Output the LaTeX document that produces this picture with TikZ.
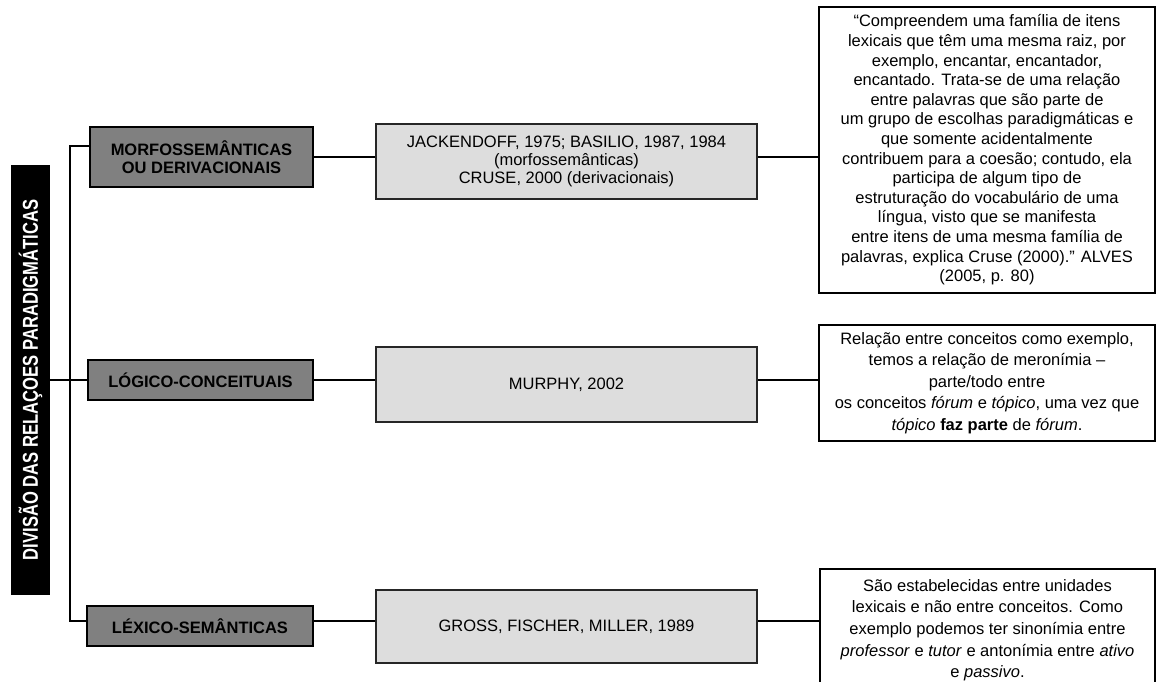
\documentclass[tikz,border=0pt]{standalone}
\usepackage{fontspec}
\setmainfont{Liberation Sans}
\usepackage{graphicx}
\begin{document}
\begin{tikzpicture}[x=1pt,y=-1pt,
  catbox/.style={draw=black,line width=1.3pt,fill=catgray,inner sep=0pt,align=center,
    font=\fontsize{16.5}{18}\selectfont\bfseries,anchor=center},
  refbox/.style={draw=black!85,line width=1.1pt,fill=refgray,inner sep=0pt,align=center,
    font=\fontsize{16.5}{18}\selectfont,anchor=center},
  notebox/.style={draw=black,line width=1.2pt,fill=white,inner sep=0pt,align=center,
    font=\fontsize{16.5}{19.6}\selectfont,anchor=center},
  conn/.style={line width=1.5pt,draw=black}]
\definecolor{catgray}{RGB}{128,128,128}
\definecolor{refgray}{RGB}{221,221,221}
\useasboundingbox (0,0) rectangle (1156,682);
\clip (0,0) rectangle (1156,682);

% title
\node[fill=black,minimum width=430pt,minimum height=39pt,inner sep=0pt,anchor=center,
  text=white,font=\fontsize{16.6}{18}\selectfont\bfseries,rotate=90] (title) at (30.5,380)
  {\scalebox{1}[1.3]{DIVISÃO DAS RELAÇOES PARADIGMÁTICAS}};

% category boxes
\node[catbox,minimum width=223pt,minimum height=60pt] (m1) at (201.5,157)
  {MORFOSSEMÂNTICAS\\OU DERIVACIONAIS};
\node[catbox,minimum width=225pt,minimum height=40pt] (m2) at (200.5,380)
  {LÓGICO-CONCEITUAIS};
\node[catbox,minimum width=226pt,minimum height=40pt] (m3) at (200,626)
  {LÉXICO-SEMÂNTICAS};

% note boxes
\node[notebox,minimum width=336pt,minimum height=286pt] (q1) at (987,150)
  {“Compreendem uma família de itens\\
   lexicais que têm uma mesma raiz, por\\
   exemplo, encantar, encantador,\\
   encantado. Trata-se de uma relação\\
   entre palavras que são parte de\\
   um grupo de escolhas paradigmáticas e\\
   que somente acidentalmente\\
   contribuem para a coesão; contudo, ela\\
   participa de algum tipo de\\
   estruturação do vocabulário de uma\\
   língua, visto que se manifesta\\
   entre itens de uma mesma família de\\
   palavras, explica Cruse (2000).” ALVES\\
   (2005, p. 80)};
\node[notebox,minimum width=336pt,minimum height=116pt,font=\fontsize{16.5}{21.5}\selectfont] (q2) at (987,383)
  {Relação entre conceitos como exemplo,\\
   temos a relação de meronímia –\\
   parte/todo entre\\
   os conceitos \textit{fórum} e \textit{tópico}, uma vez que\\
   \textit{tópico} \textbf{faz parte} de \textit{fórum}.};

% connectors
\coordinate (trunkTop) at (70,146);
\coordinate (trunkBot) at (70,621);
\draw[conn] (title) -- (m2.west);
\draw[conn] (m1.west |- trunkTop) -- (trunkTop) -- (trunkBot) -- (m3.west |- trunkBot);
\draw[conn] (m1.east) -- (m1.east -| q1.west);
\draw[conn] (m2.east) -- (m2.east -| q2.west);

\node[notebox,minimum width=335pt,minimum height=131pt] (q3) at (987.5,634.5) {};
\node[font=\fontsize{16.5}{21.7}\selectfont,align=center,anchor=north,inner sep=0pt] (q3t) at (987.5,579)
  {São estabelecidas entre unidades\\
   lexicais e não entre conceitos. Como\\
   exemplo podemos ter sinonímia entre\\
   \textit{professor} e \textit{tutor} e antonímia entre \textit{ativo}\\
   e \textit{passivo}.};
\draw[conn] (m3.east |- trunkBot) -- (trunkBot -| q3.west);

% reference boxes
\node[refbox,minimum width=381pt,minimum height=75pt] (r1) at (566.5,161.5)
  {JACKENDOFF, 1975; BASILIO, 1987, 1984\\(morfossemânticas)\\CRUSE, 2000 (derivacionais)};
\node[refbox,minimum width=381pt,minimum height=75pt] (r2) at (566.5,384.5)
  {MURPHY, 2002};
\node[refbox,minimum width=381pt,minimum height=73pt] (r3) at (566.5,626.5)
  {GROSS, FISCHER, MILLER, 1989};
\end{tikzpicture}
\end{document}
